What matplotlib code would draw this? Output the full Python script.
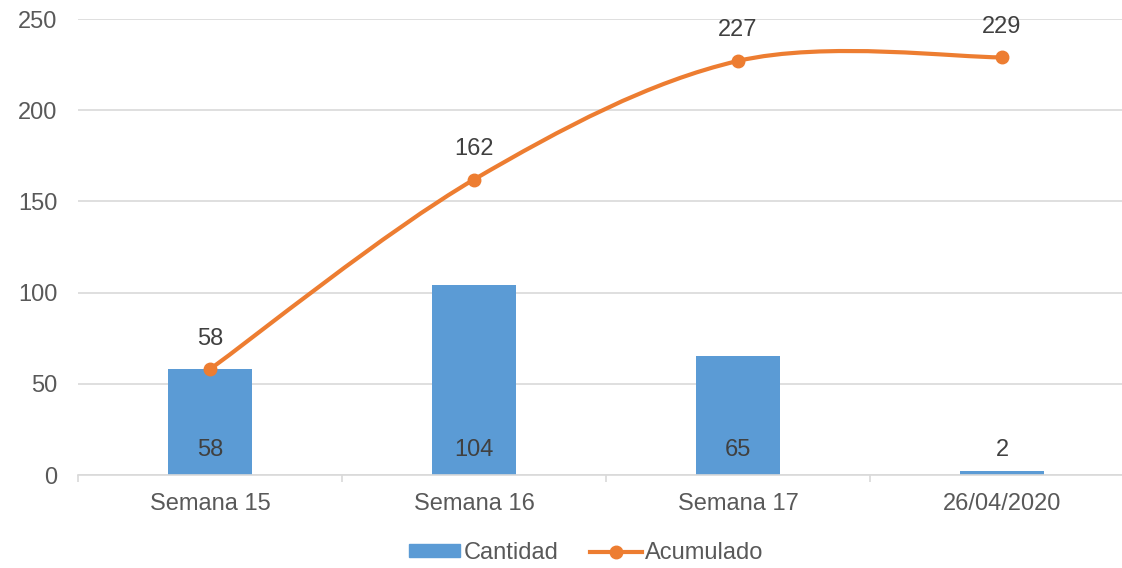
import matplotlib.pyplot as plt
import numpy as np
from matplotlib.path import Path
from matplotlib.patches import PathPatch, Patch
from matplotlib.lines import Line2D

plt.rcParams['font.family'] = ['Liberation Sans', 'DejaVu Sans']

categories = ["Semana 15", "Semana 16", "Semana 17", "26/04/2020"]
cantidad = [58, 104, 65, 2]
acumulado = [58, 162, 227, 229]

bar_color = "#5b9bd5"
line_color = "#ed7d31"
text_color = "#595959"
label_color = "#404040"
grid_color = "#d9d9d9"


def smooth_path(xs, ys):
    # excel-like smoothed line: cubic bezier, catmull-rom style control points
    pts = np.column_stack([xs, ys]).astype(float)
    n = len(pts)
    verts = [pts[0]]
    codes = [Path.MOVETO]
    for i in range(n - 1):
        p0 = pts[i - 1] if i > 0 else pts[i]
        p1 = pts[i]
        p2 = pts[i + 1]
        p3 = pts[i + 2] if i + 2 < n else pts[i + 1]
        c1 = p1 + (p2 - p0) / 6
        c2 = p2 - (p3 - p1) / 6
        verts += [c1, c2, p2]
        codes += [Path.CURVE4] * 3
    return Path(verts, codes)


fig = plt.figure(figsize=(11.22, 5.68), dpi=100)
ax = fig.add_axes([78 / 1122, 93 / 568, 1056 / 1122, 456 / 568])

x = np.arange(len(categories))
ax.bar(x, cantidad, width=0.315, color=bar_color, zorder=2)

curve = PathPatch(smooth_path(x, acumulado), facecolor="none", edgecolor=line_color,
                  linewidth=3, capstyle="round", zorder=3)
ax.add_patch(curve)
ax.plot(x, acumulado, linestyle="none", marker="o", markersize=9,
        color=line_color, zorder=4)

fs = 17
for xi, v in zip(x, acumulado):
    ax.annotate(str(v), (xi, v), xytext=(0, 22), textcoords="offset points",
                ha="center", va="center", fontsize=fs, color=label_color)
for xi, v in zip(x, cantidad):
    ax.annotate(str(v), (xi, 0), xytext=(0, 18), textcoords="offset points",
                ha="center", va="center", fontsize=fs, color=label_color, zorder=5)

ax.set_xlim(-0.5, 3.5)
ax.set_ylim(0, 250)
ax.set_yticks(range(0, 251, 50))
ax.yaxis.grid(True, color=grid_color, linewidth=1.2)
ax.set_axisbelow(True)

ax.set_xticks(np.arange(-0.5, 4, 1))
ax.set_xticklabels([])
ax.set_xticks(x, minor=True)
ax.set_xticklabels(categories, minor=True)
ax.tick_params(axis="x", which="major", length=5, color=grid_color, width=1.2)
ax.tick_params(axis="x", which="minor", length=0, pad=13, labelsize=fs,
               labelcolor=text_color)
ax.tick_params(axis="y", length=0, pad=15, labelsize=fs, labelcolor=text_color)

for s in ["top", "right", "left"]:
    ax.spines[s].set_visible(False)
ax.spines["bottom"].set_color(grid_color)
ax.spines["bottom"].set_linewidth(1.2)

handles = [Patch(color=bar_color),
           Line2D([0], [0], color=line_color, linewidth=3, marker="o", markersize=9)]
fig.legend(handles, ["Cantidad", "Acumulado"], loc="center",
           bbox_to_anchor=(586 / 1122, 15 / 568), ncol=2, frameon=False,
           fontsize=fs, labelcolor=text_color, handlelength=2.2,
           handleheight=0.45, handletextpad=0.15, columnspacing=1.3)

fig.savefig("out.png", dpi=100)
